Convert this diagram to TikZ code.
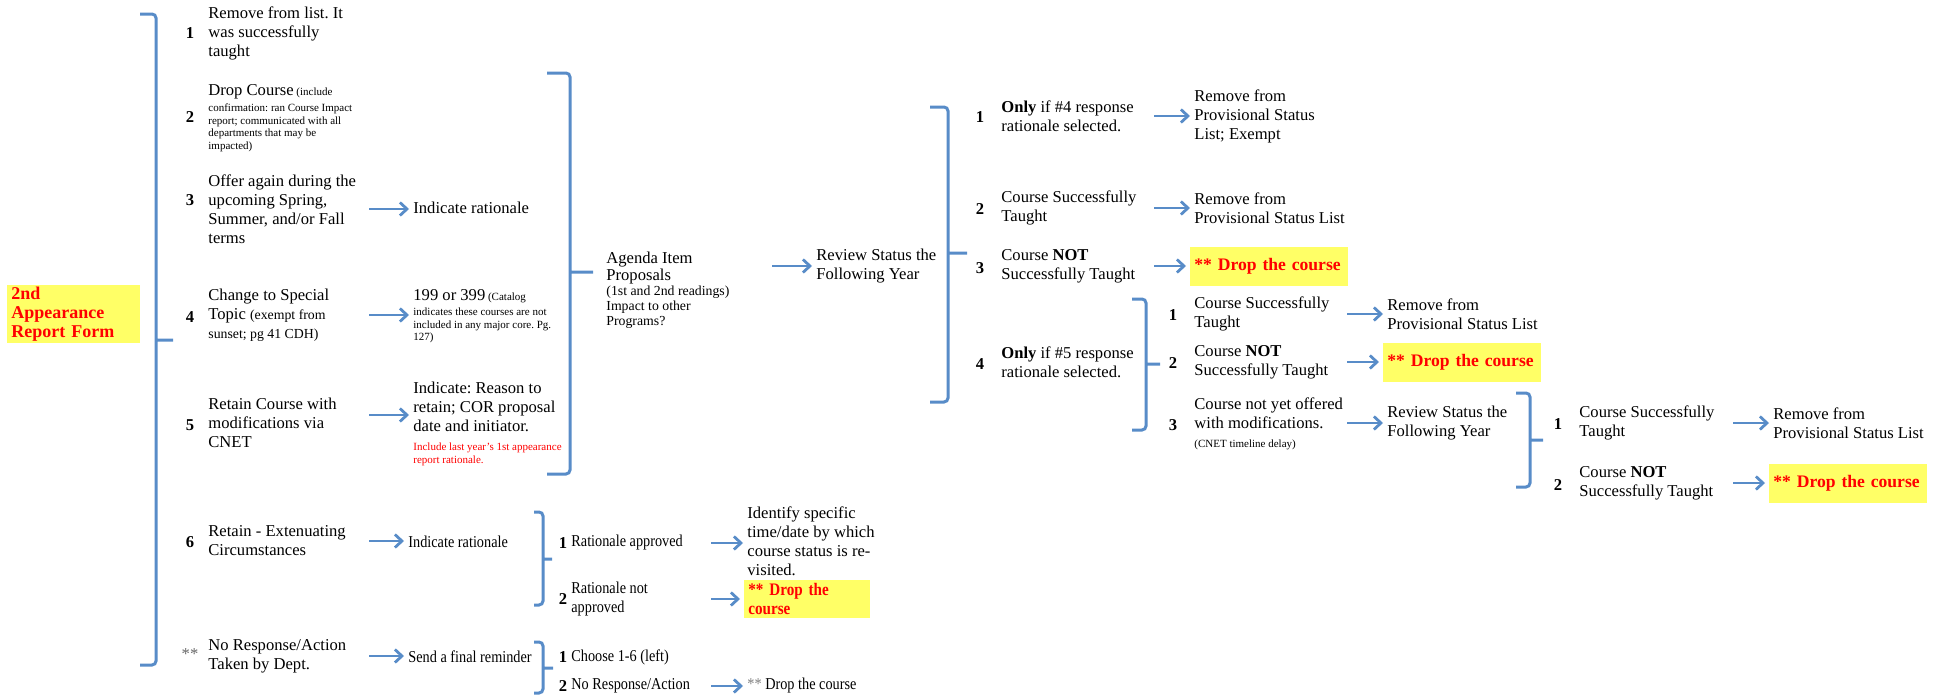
\documentclass[tikz,border=0pt]{standalone}
\usepackage{fontspec}
\setmainfont{Liberation Serif}
\newfontfamily\condfont[FakeStretch=0.86]{Liberation Serif}
\usetikzlibrary{arrows.meta}
\definecolor{arrblue}{RGB}{88,140,200}
\definecolor{hiyellow}{HTML}{FFFF66}
\definecolor{hired}{HTML}{FF0000}
\newcommand{\szM}{\fontsize{8.3}{9.5}\selectfont}
\newcommand{\szB}{\fontsize{8.8}{9.5}\selectfont}
\newcommand{\szX}{\fontsize{6.9}{7.5}\selectfont}
\newcommand{\szS}{\fontsize{5.5}{6.2}\selectfont}
\newcommand{\sqbrace}[6]{\draw[brc] (#1,#4) -- (#2,#4) -- (#2,#6) -- (#1,#6) (#2,#5) -- (#3,#5);}
\frenchspacing

\begin{document}
\begin{tikzpicture}[x=0.5pt,y=-0.5pt]
          \tikzset{item/.style={anchor=west,align=left,inner sep=0pt,font=\szM},
                   cond/.style={font=\szM\condfont},
                   num/.style={inner sep=0pt,font=\szM\bfseries},
                   arr/.style={draw=arrblue,line width=1.4pt,-{Straight Barb[length=3.5pt,width=6.5pt]},shorten >=2pt},
                   brc/.style={draw=arrblue,line width=1.5pt,rounded corners=2pt},
                   drop/.style={anchor=west,fill=hiyellow,text=hired,font=\szB\bfseries,align=left,
                                inner xsep=2pt,inner ysep=0pt,minimum height=19.5pt,text width=75pt}}
          \useasboundingbox (0,0) rectangle (1940,696);
          \coordinate (colA) at (369,0);
          \coordinate (colB) at (772,0);
          \coordinate (colC) at (1154,0);
          \coordinate (colD) at (1347,0);
          \coordinate (colE) at (1733,0);
          \coordinate (colF) at (711,0);

          \node[drop,text width=62.5pt,minimum height=29pt,font=\fontsize{9}{9.5}\selectfont\bfseries] (form) at (7,314) {2nd\\Appearance\\Report Form};
          \sqbrace{140}{156}{173}{14}{340}{665}

          \node[num] (n1) at (190,33) {1};
          \node[item] (i1) at (208,33) {Remove from list. It\\was successfully\\taught};
          \node[num] (n2) at (190,117) {2};
          \node[item,font=\szS] (i2) at (208,118) {{\szM Drop Course} (include\\[2pt]confirmation: ran Course Impact\\report; communicated with all\\departments that may be\\impacted)};
          \node[num] (n3) at (190,200) {3};
          \node[item] (i3) at (208,209) {Offer again during the\\upcoming Spring,\\Summer, and/or Fall\\terms};
          \node[num] (n4) at (190,317) {4};
          \node[item] (i4) at (208,315) {Change to Special\\Topic {\szX (exempt from}\\{\szX sunset; pg 41 CDH)}};
          \node[num] (n5) at (190,425) {5};
          \node[item] (i5) at (208,423) {Retain Course with\\modifications via\\CNET};
          \node[num] (n6) at (190,542) {6};
          \node[item] (i6) at (208,541) {Retain - Extenuating\\Circumstances};
          \node[num,text=gray!80!black,font=\szM] (n7) at (190,654) {**};
          \node[item] (i7) at (208,656) {No Response/Action\\Taken by Dept.};

          \node[item] (r3) at (413,208) {Indicate rationale};
          \node[item,font=\szS] (r4) at (413,316) {{\szM 199 or 399} (Catalog\\[1.5pt]indicates these courses are not\\included in any major core. Pg.\\127)};
          \node[item] (r5) at (413,424) {Indicate: Reason to\\retain; COR proposal\\date and initiator.\\{\szS\color{hired}Include last year's 1st appearance}\\[-3pt]{\szS\color{hired}report rationale.}};
          \node[item,cond] (r6) at (408,542) {Indicate rationale};
          \node[item,cond] (r7) at (408,657) {Send a final reminder};
          \foreach \s/\t in {i3/r3,i4/r4,i6/r6,i7/r7}
            \draw[arr] (\s -| colA) -- (\s -| \t.west);
          \draw[arr] ([yshift=4pt]i5 -| colA) -- ([yshift=4pt]i5 -| r5.west);

          \sqbrace{547}{570}{593}{73}{272}{474}
          \node[item,font=\szX] (agenda) at (606,290) {{\szM Agenda Item}\\{\szM Proposals}\\(1st and 2nd readings)\\Impact to other\\Programs?};
          \node[item] (review) at (816,266) {Review Status the\\Following Year};
          \draw[arr] (review -| colB) -- (review.west);

          \sqbrace{930}{948}{967}{107}{253}{402}
          \node[num] (a1) at (980,117) {1};
          \node[item] (b1) at (1001,116) {\textbf{Only} if \#4 response\\rationale selected.};
          \node[num] (a2) at (980,209) {2};
          \node[item] (b2) at (1001,208) {Course Successfully\\Taught};
          \node[num] (a3) at (980,268) {3};
          \node[item] (b3) at (1001,266) {Course \textbf{NOT}\\Successfully Taught};
          \node[num] (a4) at (980,364) {4};
          \node[item] (b4) at (1001,362) {\textbf{Only} if \#5 response\\rationale selected.};
          \node[item] (c1) at (1194,116) {Remove from\\Provisional Status\\List; Exempt};
          \node[item] (c2) at (1194,208) {Remove from\\Provisional Status List};
          \node[drop] (c3) at (1190,266.5) {** Drop the course};
          \foreach \s/\t in {b1/c1,b2/c2,b3/c3}
            \draw[arr] (\s -| colC) -- (\s -| \t.west);

          \sqbrace{1132}{1146}{1160}{299}{364}{430}
          \node[num] (d1) at (1173,315) {1};
          \node[item] (e1) at (1194,314) {Course Successfully\\Taught};
          \node[num] (d2) at (1173,363) {2};
          \node[item] (e2) at (1194,362) {Course \textbf{NOT}\\Successfully Taught};
          \node[num] (d3) at (1173,425) {3};
          \node[item] (e3) at (1194,424) {Course not yet offered\\with modifications.\\{\szS (CNET timeline delay)}};
          \node[item] (f1) at (1387,314) {Remove from\\Provisional Status List};
          \node[drop] (f2) at (1383,362.5) {** Drop the course};
          \node[item] (f3) at (1387,423) {Review Status the\\Following Year};
          \foreach \s/\t in {e1/f1,e2/f2}
            \draw[arr] (\s -| colD) -- (\s -| \t.west);
          \draw[arr] (f3 -| colD) -- (f3.west);

          \sqbrace{1516}{1530}{1543}{393}{440}{487}
          \node[num] (g1) at (1558,424) {1};
          \node[item] (h1) at (1579,423) {Course Successfully\\Taught};
          \node[num] (g2) at (1558,485) {2};
          \node[item] (h2) at (1579,483) {Course \textbf{NOT}\\Successfully Taught};
          \node[item] (k1) at (1773,423) {Remove from\\Provisional Status List};
          \node[drop] (k2) at (1769,483.5) {** Drop the course};
          \foreach \s/\t in {h1/k1,h2/k2}
            \draw[arr] (\s -| colE) -- (\s -| \t.west);

          \sqbrace{534}{543}{552}{512}{559}{605}
          \node[num] (s1n) at (563,543) {1};
          \node[item,cond] (s1) at (571,543) {Rationale approved};
          \node[num] (s2n) at (563,599) {2};
          \node[item,cond] (s2) at (571,599) {Rationale not\\approved};
          \node[item] (t1) at (747,541) {Identify specific\\time/date by which\\course status is re-\\visited.};
          \node[drop,text width=59pt,minimum height=19pt,font=\szB\condfont\bfseries] (t2) at (744,599) {** Drop the\\course};
          \foreach \s/\t in {s1/t1,s2/t2}
            \draw[arr] (\s -| colF) -- (\s -| \t.west);

          \sqbrace{534}{543}{553}{642}{668}{693}
          \node[num] (u1n) at (563,657) {1};
          \node[item,cond] (u1) at (571,657) {Choose 1-6 (left)};
          \node[num] (u2n) at (563,686) {2};
          \node[item,cond] (u2) at (571,686) {No Response/Action};
          \node[item,cond] (v2) at (747,686) {{\color{gray}**} Drop the course};
          \draw[arr] (u2 -| colF) -- (u2 -| v2.west);
        \end{tikzpicture}
\end{document}
